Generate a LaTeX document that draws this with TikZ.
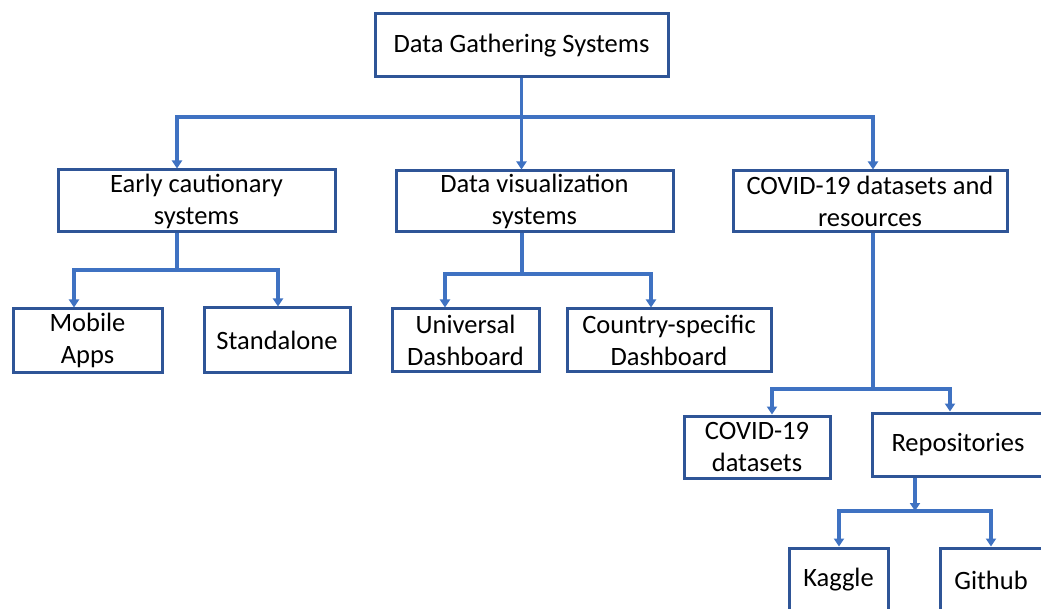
\documentclass[tikz,border=0pt]{standalone}
\usepackage{fontspec}
\setmainfont{Carlito}
\usetikzlibrary{arrows.meta}
\definecolor{boxblue}{HTML}{2F5597}
\definecolor{lineblue}{HTML}{3F72C2}
\begin{document}
\begin{tikzpicture}[x=1pt,y=-1pt,
  box/.style={draw=boxblue, line width=3pt, fill=white, inner sep=0pt, align=center,
    font=\fontsize{26.5}{32}\selectfont},
  conn/.style={draw=lineblue, line width=3.2pt},
  arr/.style={conn, -{Triangle[width=10pt,length=8pt]}}]
\useasboundingbox (0,0) rectangle (1041,609);
% boxes
\node[box, minimum width=293pt, minimum height=63pt] (top) at (521.5,45.5) {Data Gathering Systems};
\node[box, minimum width=277pt, minimum height=62pt] (early) at (196.5,201) {Early cautionary\\systems};
\node[box, minimum width=277pt, minimum height=61pt] (vis) at (534.5,201.5) {Data visualization\\systems};
\node[box, minimum width=274pt, minimum height=61pt] (covid) at (870,201.5) {COVID-19 datasets and\\resources};
\node[box, minimum width=149pt, minimum height=63pt] (mobile) at (87.5,340.5) {Mobile\\Apps};
\node[box, minimum width=146pt, minimum height=64pt] (stand) at (277,340) {Standalone};
\node[box, minimum width=147pt, minimum height=62pt] (univ) at (465.5,340) {Universal\\Dashboard};
\node[box, minimum width=204pt, minimum height=62pt] (country) at (669,340) {Country-specific\\Dashboard};
\node[box, minimum width=146pt, minimum height=62pt] (cdata) at (757,447) {COVID-19\\datasets};
\node[box, minimum width=172pt, minimum height=63pt] (repo) at (958,444.5) {Repositories};
\node[box, minimum width=99pt, minimum height=64pt] (kaggle) at (838.5,580) {Kaggle};
\node[box, minimum width=102pt, minimum height=64pt] (github) at (991,580) {Github};
% level 1
\coordinate (busA) at (521.5,117);
\coordinate (aL) at (177,117);
\coordinate (aR) at (873,117);
\draw[conn] (top.south) -- (busA);
\draw[arr] (busA) -| (aL |- early.north);
\draw[arr] (busA) -| (aR |- covid.north);
\draw[arr] (busA) -- (busA |- vis.north);
% early
\coordinate (busB) at (177,270);
\coordinate (bL) at (74,270);
\coordinate (bR) at (278,270);
\draw[conn] (busB |- early.south) -- (busB);
\draw[arr] (busB) -| (bL |- mobile.north);
\draw[arr] (busB) -| (bR |- stand.north);
% visualization
\coordinate (busC) at (522,274);
\coordinate (cL) at (445,274);
\coordinate (cR) at (651,274);
\draw[conn] (busC |- vis.south) -- (busC);
\draw[arr] (busC) -| (cL |- univ.north);
\draw[arr] (busC) -| (cR |- country.north);
% covid
\coordinate (busD) at (873,389);
\coordinate (dL) at (772,389);
\coordinate (dR) at (950,389);
\draw[conn] (busD |- covid.south) -- (busD);
\draw[arr] (busD) -| (dL |- cdata.north);
\draw[arr] (busD) -| (dR |- repo.north);
% repositories
\coordinate (busE) at (915,511);
\coordinate (eL) at (839,511);
\coordinate (eR) at (991,511);
\draw[arr] (busE |- repo.south) -- (busE);
\draw[conn] (eL) -- (eR);
\draw[arr] (busE) -| (eL |- kaggle.north);
\draw[arr] (busE) -| (eR |- github.north);
\end{tikzpicture}
\end{document}
